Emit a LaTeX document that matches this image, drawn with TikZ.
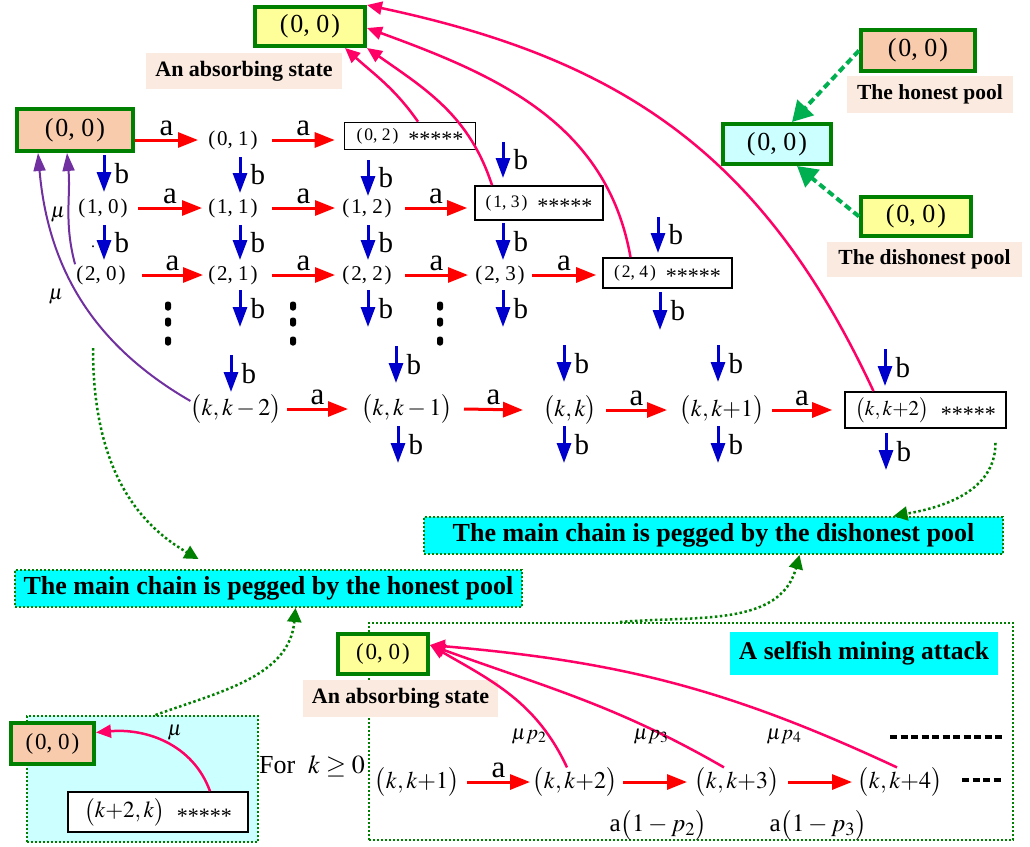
\documentclass[tikz,border=0pt]{standalone}
\usepackage{mathptmx}
\usepackage{fontspec}
\setmainfont{Liberation Serif}
\usetikzlibrary{arrows.meta}
\definecolor{gbord}{HTML}{008000}
\definecolor{orfill}{HTML}{F8CBAD}
\definecolor{yelfill}{HTML}{FFFF99}
\definecolor{cyfill}{HTML}{CCFFFF}
\definecolor{lblfill}{HTML}{FBEADF}
\definecolor{banfill}{HTML}{00FFFF}
\definecolor{pinkc}{HTML}{FF0066}
\definecolor{redc}{HTML}{FF0000}
\definecolor{bluec}{HTML}{0000CC}
\definecolor{purpc}{HTML}{7030A0}
\definecolor{gdash}{HTML}{00B050}
\newcommand{\fs}[1]{\fontsize{#1}{#1}\selectfont}
\newcommand{\stp}[1]{(\kern2pt#1\kern2pt)}
\newcommand{\mystars}{{\fs{22}\raisebox{-0.28em}[0pt][0pt]{*****}}}
\tikzset{
  gbox/.style={draw=gbord, line width=4pt, inner sep=0pt},
  lbl/.style={fill=lblfill, inner sep=0pt, font=\bfseries\fs{22}},
  ban/.style={fill=banfill, draw=gbord, line width=2pt, dash pattern=on 2pt off 2pt, inner sep=0pt, font=\bfseries\fs{26}},
  cont/.style={draw=gbord, line width=2pt, dash pattern=on 2pt off 2pt, inner sep=0pt},
  st/.style={inner sep=1pt, font=\fs{21}},
  kst/.style={inner sep=0pt, font=\fs{24}},
  sbox/.style={draw=black, line width=1.6pt, fill=white, inner sep=0pt},
  redarr/.style={draw=redc, line width=3pt, -{Triangle[length=20pt,width=15pt]}},
  bluearr/.style={draw=bluec, line width=3pt, -{Triangle[length=20pt,width=14pt]}},
  pinkarr/.style={draw=pinkc, line width=2.5pt, -{Triangle[length=15pt,width=13pt]}},
  purparr/.style={draw=purpc, line width=2pt, -{Triangle[length=18pt,width=12pt]}},
  gdarr/.style={draw=gdash, line width=4pt, dash pattern=on 7pt off 4pt, -{Triangle[length=20pt,width=22pt]}},
  gdotarr/.style={draw=gbord, line width=2.5pt, dash pattern=on 2.5pt off 2.5pt, -{Triangle[length=14pt,width=14pt]}},
  alab/.style={font=\fs{31}, inner sep=0pt, above=3pt},
  blab/.style={font=\fs{29}, inner sep=0pt, right=9pt, midway},
  vdot/.style={fill=black, rounded corners=2.5pt, minimum width=6pt, minimum height=9pt, inner sep=0pt},
}
\newcommand{\barr}[3]{\draw[bluearr] (#1,#2) -- node[blab]{b} (#1,#3);}
\begin{document}
\begin{tikzpicture}[x=1pt,y=-1pt]
\useasboundingbox (0,0) rectangle (1030,846);
% containers
\node[cont, fill=cyfill, minimum width=231pt, minimum height=126pt] (CC) at (142.5,779) {};
\node[cont, minimum width=644pt, minimum height=217pt] (SC) at (691,731.5) {};
% top absorbing state
\node[gbox, fill=yelfill, minimum width=110pt, minimum height=39pt, font=\fs{26}] (topY) at (310,26.5) {\stp{0, 0}};
\node[lbl, minimum width=196pt, minimum height=36pt] (L1) at (244,71) {An absorbing state};
% start state
\node[gbox, fill=orfill, minimum width=116pt, minimum height=42pt, font=\fs{26}] (O) at (75,130) {\stp{0, 0}};
% legend
\node[gbox, fill=orfill, minimum width=114pt, minimum height=41pt, font=\fs{26}] (H) at (918,50.5) {\stp{0, 0}};
\node[lbl, font=\bfseries\fs{21.5}, minimum width=166pt, minimum height=37pt] (L2) at (930,94.5) {The honest pool};
\node[gbox, fill=cyfill, minimum width=108pt, minimum height=40pt, font=\fs{26}] (C) at (777,144) {\stp{0, 0}};
\node[gbox, fill=yelfill, minimum width=110pt, minimum height=39pt, font=\fs{26}] (D) at (916,216.5) {\stp{0, 0}};
\node[lbl, font=\bfseries\fs{21.5}, minimum width=195pt, minimum height=35pt] (L3) at (924.5,259.5) {The dishonest pool};
\draw[gdarr] (H.west) -- ([xshift=15pt]C.north);
\draw[gdarr] (D.west) -- ([xshift=20pt]C.south);
% grid states
\node[st] (s01) at (233,140) {\stp{0, 1}};
\node[sbox, minimum width=131pt, minimum height=27pt] (s02) at (410,136) {\fs{17.5}\stp{0, 2}\hspace{10pt}\mystars};
\node[st] (s10) at (103,208) {\stp{1, 0}};
\node[st] (s11) at (233,208) {\stp{1, 1}};
\node[st] (s12) at (367,208) {\stp{1, 2}};
\node[sbox, minimum width=128pt, minimum height=34pt] (s13) at (539,203) {\fs{17.5}\stp{1, 3}\hspace{10pt}\mystars};
\node[st] (s20) at (101,275) {\stp{2, 0}};
\node[st] (s21) at (233,275) {\stp{2, 1}};
\node[st] (s22) at (367,275) {\stp{2, 2}};
\node[st] (s23) at (500,275) {\stp{2, 3}};
\node[sbox, minimum width=129pt, minimum height=30pt] (s24) at (667.5,273) {\fs{17.5}\stp{2, 4}\hspace{10pt}\mystars};
\node[font=\fs{16}, inner sep=0pt] (dotc) at (93,247) {.};
% row k
\node[kst] (km2) at (236,409) {$\bigl(k,k-2\bigr)$};
\node[kst] (km1) at (407,409) {$\bigl(k,k-1\bigr)$};
\node[kst] (kk0) at (570,410) {$\bigl(k,k\bigr)$};
\node[kst] (kp1) at (722,410) {$\bigl(k,k{+}1\bigr)$};
\node[sbox, minimum width=161pt, minimum height=36pt] (kp2) at (925.5,410) {\fs{21}$\bigl(k,k{+}2\bigr)$\hspace{12pt}\mystars};
% vertical dots
\foreach \x in {168,293,440}{
  \foreach \y in {306,322,341}{ \node[vdot] at (\x,\y) {}; }
}
% arrow end points on the boxes
\path (s01.center -| s02.west) ++(-9pt,0) coordinate (e02);
\path (s12.center -| s13.west) ++(-7pt,0) coordinate (e13);
\path (s23.center -| s24.west) ++(-6pt,0) coordinate (e24);
\path (kp1.center -| kp2.west) ++(-12pt,0) coordinate (ek2);
\path (s01.center -| O.east) coordinate (e00);
% red arrows
\draw[redarr] (e00) -- node[alab]{a} ([xshift=-35pt]s01.center);
\draw[redarr] ([xshift=39pt]s01.center) -- node[alab]{a} (e02);
\draw[redarr] ([xshift=35pt]s10.center) -- node[alab]{a} ([xshift=-31pt]s11.center);
\draw[redarr] ([xshift=39pt]s11.center) -- node[alab]{a} ([xshift=-32pt]s12.center);
\draw[redarr] ([xshift=38pt]s12.center) -- node[alab]{a} (e13);
\draw[redarr] ([xshift=41pt]s20.center) -- node[alab]{a} ([xshift=-30pt]s21.center);
\draw[redarr] ([xshift=39pt]s21.center) -- node[alab]{a} ([xshift=-32pt]s22.center);
\draw[redarr] ([xshift=38pt]s22.center) -- node[alab]{a} ([xshift=-32pt]s23.center);
\draw[redarr] ([xshift=32pt]s23.center) -- node[alab]{a} (e24);
\draw[redarr] ([xshift=51pt]km2.center) -- node[alab]{a} ([xshift=-59pt]km1.center);
\draw[redarr] ([xshift=57pt]km1.center) -- node[alab]{a} ([xshift=-47pt]kk0.center);
\draw[redarr] ([xshift=36pt]kk0.center) -- node[alab]{a} ([xshift=-55pt]kp1.center);
\draw[redarr] ([xshift=50pt]kp1.center) -- node[alab]{a} (ek2);
% blue arrows
\barr{104}{155}{192}\barr{240}{157}{193}\barr{368}{160}{196}\barr{503}{142}{178}
\barr{104}{225}{260}\barr{240}{225}{260}\barr{368}{225}{260}\barr{503}{223}{260}
\barr{658}{217}{253}
\barr{240}{290}{327}\barr{368}{290}{327}\barr{503}{290}{327}\barr{660}{292}{330}
\barr{231}{355}{392}\barr{396}{346}{383}\barr{564}{345}{382}\barr{718}{345}{382}\barr{885}{349}{386}
\barr{398}{426}{463}\barr{564}{426}{463}\barr{718}{426}{463}\barr{886}{433}{470}
% pink to top absorbing
\draw[pinkarr] ([xshift=8pt]s02.north) to[out=125,in=-42] ([xshift=35pt]topY.south);
\draw[pinkarr] ([xshift=-47pt]s13.north) to[out=108,in=-35] (topY.south east);
\draw[pinkarr] ([xshift=-37pt]s24.north) to[out=100,in=-20] ([yshift=-1.5pt]topY.east);
\draw[pinkarr] ([xshift=-52pt]kp2.north) to[out=115,in=-12,looseness=1.05] (topY.north east);
% purple
\draw[purparr] (s20.north west) to[out=105,in=-85] node[pos=0.45, left=2pt, font=\fs{21}, inner sep=0pt]{$\mu$} ([xshift=-8pt]O.south);
\draw[purparr] ([yshift=8pt]km2.west) to[out=150,in=-85] ([xshift=-37pt]O.south);
\node[font=\fs{21}, inner sep=0pt] (mu2) at (56,297) {$\mu$};
% banners
\node[ban, minimum width=579pt, minimum height=37pt] (B1) at (713.5,535.5) {The main chain is pegged by the dishonest pool};
\node[ban, minimum width=507pt, minimum height=37pt] (B2) at (268.5,588.5) {The main chain is pegged by the honest pool};
\coordinate (g2s) at (93,348);
\draw[gdotarr] ([shift={(70pt,-14pt)}]kp2.south) to[out=-90,in=10] ([xshift=180pt]B1.north);
\draw[gdotarr] (g2s) to[out=-90,in=150] ([shift={(-70pt,10pt)}]B2.north);
\draw[gdotarr] ([xshift=-71pt]SC.north) to[out=5,in=-105] ([xshift=86pt]B1.south);
\draw[gdotarr] ([xshift=13pt]CC.north) to[out=20,in=-95] ([xshift=27pt]B2.south);
% lower-left box
\node[gbox, fill=orfill, minimum width=83pt, minimum height=41pt, font=\fs{23}] (BO) at (52.5,743.5) {\stp{0, 0}};
\node[sbox, minimum width=180pt, minimum height=40pt] (sk2k) at (158,812) {\fs{23}$\bigl(k{+}2,k\bigr)$\hspace{12pt}\mystars};
\draw[pinkarr] ([xshift=52pt]sk2k.north) to[out=110,in=5] node[pos=0.5, above right=0pt, font=\fs{21}, inner sep=1pt]{$\mu$} ([yshift=11pt]BO.east);
\node[font=\fs{26}, inner sep=0pt] (fork) at (312,766) {For\ \ $k\geq 0$};
% selfish mining box
\node[gbox, fill=yelfill, minimum width=90pt, minimum height=40pt, font=\fs{23}] (BY) at (383,654) {\stp{0, 0}};
\node[lbl, minimum width=195pt, minimum height=37pt] (L4) at (400.5,698.5) {An absorbing state};
\node[fill=banfill, inner sep=0pt, minimum width=268pt, minimum height=43pt, font=\bfseries\fs{25.5}] (B3) at (864,653.5) {A selfish mining attack};
\node[kst] (bk1) at (417,782) {$\bigl(k,k{+}1\bigr)$};
\node[kst] (bk2) at (575,782) {$\bigl(k,k{+}2\bigr)$};
\node[kst] (bk3) at (737,782) {$\bigl(k,k{+}3\bigr)$};
\node[kst] (bk4) at (900,782) {$\bigl(k,k{+}4\bigr)$};
\draw[redarr] ([xshift=50pt]bk1.center) -- node[alab]{a} ([xshift=-45pt]bk2.center);
\draw[redarr] ([xshift=48pt]bk2.center) -- ([xshift=-50pt]bk3.center);
\draw[redarr] ([xshift=51pt]bk3.center) -- ([xshift=-48pt]bk4.center);
\node[font=\fs{25}, inner sep=0pt] (lb2) at (658,825) {a$\bigl(1-p_2\bigr)$};
\node[font=\fs{25}, inner sep=0pt] (lb3) at (818,825) {a$\bigl(1-p_3\bigr)$};
\draw[pinkarr] ([xshift=-8pt]bk2.north) to[out=115,in=-30] ([yshift=9pt]BY.east);
\draw[pinkarr] ([xshift=-13pt]bk3.north) to[out=150,in=-20] ([yshift=9pt]BY.east);
\draw[pinkarr] ([xshift=-3pt]bk4.north) to[out=155,in=-5] ([yshift=9pt]BY.east);
\node[font=\fs{21}, inner sep=0pt] (mp2) at (529,737) {$\mu p_2$};
\node[font=\fs{21}, inner sep=0pt] (mp3) at (651,737) {$\mu p_3$};
\node[font=\fs{21}, inner sep=0pt] (mp4) at (784,737) {$\mu p_4$};
\draw[line width=4pt, dash pattern=on 7pt off 3.5pt] (890,737) -- (1002,737);
\draw[line width=4pt, dash pattern=on 7pt off 3.5pt] (962,780) -- (1002,780);
\end{tikzpicture}
\end{document}
